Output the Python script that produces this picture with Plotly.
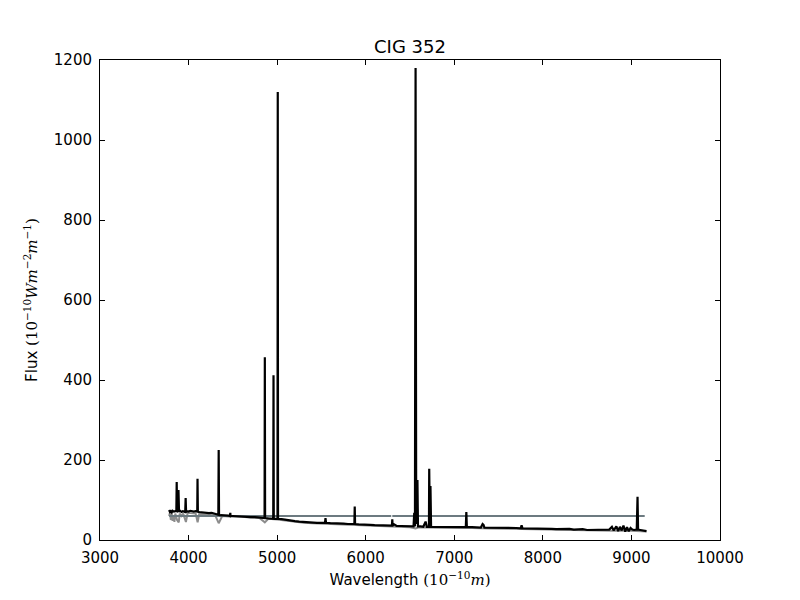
import plotly.graph_objects as go

# Observed spectrum (black)
obs_wave = [3780, 3790, 3800, 3810, 3820, 3835, 3850, 3862, 3866, 3870, 3880, 3886, 3892, 3905, 3920, 3935, 3950, 3962, 3967, 3972,
            3985, 4000, 4020, 4040, 4060, 4080, 4098, 4101, 4105, 4120, 4150, 4180, 4200, 4230, 4260, 4290, 4320, 4336, 4340, 4344,
            4360, 4390, 4420, 4450, 4468, 4471, 4474, 4500, 4550, 4600, 4650, 4700, 4750, 4800, 4840, 4858, 4861, 4864, 4900, 4940,
            4956, 4959, 4962, 4985, 5004, 5007, 5010, 5050, 5100, 5150, 5200, 5250, 5300, 5350, 5400, 5450, 5500, 5540, 5546, 5552,
            5600, 5650, 5700, 5750, 5800, 5850, 5872, 5876, 5880, 5920, 5970, 6000, 6050, 6100, 6150, 6200, 6250, 6296, 6300, 6304,
            6320, 6350, 6400, 6450, 6500, 6540, 6548, 6556, 6563, 6570, 6584, 6590, 6620, 6650, 6676, 6690, 6714, 6717, 6724, 6731,
            6738, 6780, 6850, 6900, 6950, 7000, 7050, 7100, 7130, 7136, 7142, 7200, 7250, 7300, 7320, 7330, 7340, 7400, 7450, 7500,
            7550, 7600, 7650, 7700, 7750, 7760, 7770, 7800, 7850, 7900, 7950, 8000, 8050, 8100, 8150, 8200, 8250, 8300, 8350, 8400,
            8450, 8500, 8550, 8600, 8650, 8700, 8750, 8780, 8800, 8830, 8850, 8870, 8890, 8910, 8930, 8950, 8970, 8990, 9010, 9030,
            9060, 9069, 9075, 9100, 9130, 9150, 9170]
obs_flux = [75, 70, 72, 69, 73, 71, 72, 72, 145, 72, 70, 125, 71, 73, 70, 72, 71, 70, 105, 70,
            72, 71, 73, 72, 71, 72, 71, 153, 71, 70, 69, 68, 68, 67, 68, 66, 64, 63, 225, 63,
            62, 62, 61, 61, 60, 68, 60, 60, 59, 59, 58, 57, 57, 56, 55, 55, 457, 55, 54, 53,
            53, 412, 53, 53, 53, 1120, 53, 52, 50, 48, 47, 46, 45, 45, 44, 43, 43, 43, 55, 43,
            42, 42, 41, 41, 40, 40, 40, 84, 40, 39, 39, 38, 38, 37, 37, 36, 36, 36, 52, 36,
            39, 35, 35, 34, 34, 34, 68, 34, 1180, 40, 150, 34, 34, 33, 46, 33, 33, 178, 40, 135,
            33, 33, 33, 33, 32, 33, 32, 32, 32, 70, 32, 32, 31, 31, 40, 38, 31, 31, 31, 30,
            31, 30, 30, 30, 29, 37, 29, 29, 29, 29, 28, 29, 28, 28, 27, 27, 27, 28, 26, 26,
            27, 25, 25, 26, 25, 25, 26, 33, 24, 34, 22, 33, 24, 36, 21, 32, 22, 30, 26, 25,
            26, 108, 26, 25, 24, 23, 22]

# Model spectrum (gray)
mod_wave = [3780, 3790, 3800, 3810, 3820, 3835, 3840, 3850, 3870, 3889, 3900, 3920, 3940, 3970, 3990, 4020, 4050, 4080, 4102, 4120,
            4150, 4200, 4250, 4300, 4340, 4380, 4450, 4500, 4600, 4700, 4800, 4861, 4900, 5000, 5100, 5200, 5300, 5400, 5500, 5600,
            5700, 5800, 5900, 6000, 6100, 6200, 6300, 6400, 6500, 6563, 6600, 6700, 6800, 7000, 7200, 7400, 7600, 7800, 8000, 8200,
            8400, 8600, 8800, 9000, 9170]
mod_flux = [60, 68, 50, 66, 48, 62, 45, 66, 50, 44, 66, 60, 66, 45, 68, 67, 66, 66, 44, 65,
            65, 64, 63, 62, 42, 60, 59, 59, 58, 56, 55, 44, 53, 51, 48, 45, 43, 42, 41, 40,
            39, 38, 37, 36, 35, 34, 34, 33, 32, 29, 32, 31, 31, 30, 30, 29, 28, 27, 27, 26,
            25, 24, 23, 23, 21]

# Flat level (slate gray)
flat_wave = [3780, 6288, None, 6300, 9150]
flat_flux = [60, 60, None, 60, 60]

x_ticks = [3000, 4000, 5000, 6000, 7000, 8000, 9000, 10000]
y_ticks = [0, 200, 400, 600, 800, 1000, 1200]

fig = go.Figure()
fig.add_trace(go.Scatter(x=mod_wave, y=mod_flux, mode="lines",
                         line=dict(color="#8c8c8c", width=2), showlegend=False))
fig.add_trace(go.Scatter(x=flat_wave, y=flat_flux, mode="lines", connectgaps=False,
                         line=dict(color="#6c7a80", width=2), showlegend=False))
fig.add_trace(go.Scatter(x=obs_wave, y=obs_flux, mode="lines",
                         line=dict(color="black", width=2.2), showlegend=False))

serif = "DejaVu Serif"
fig.update_layout(
    width=800, height=600,
    paper_bgcolor="white", plot_bgcolor="white",
    margin=dict(l=92, r=88, t=52, b=68, autoexpand=False),
    font=dict(family="DejaVu Sans", size=15, color="black"),
    title=dict(text="CIG 352", x=0.5025, xanchor="center", y=0.935, yanchor="middle",
               font=dict(size=18, family="DejaVu Sans", color="black")),
    xaxis=dict(range=[3000, 10000], tickvals=x_ticks, ticktext=[str(v) for v in x_ticks],
               ticks="inside", ticklen=5, tickcolor="black", showline=True, linecolor="black",
               linewidth=1, mirror="ticks", showgrid=False, zeroline=False, automargin=False,
               ticklabelstandoff=4,
               title=dict(text=f"Wavelength <span style='font-family:{serif}'>(10<sup>−10</sup><i>m</i>)</span>",
                          standoff=8, font=dict(size=15))),
    yaxis=dict(range=[0, 1200], tickvals=y_ticks, ticktext=[str(v) for v in y_ticks],
               ticks="inside", ticklen=5, tickcolor="black", showline=True, linecolor="black",
               linewidth=1, mirror="ticks", showgrid=False, zeroline=False, automargin=False,
               ticklabelstandoff=4,
               title=dict(text=f"Flux <span style='font-family:{serif}'>(10<sup>−10</sup><i>Wm</i><sup>−2</sup><i>m</i><sup>−1</sup>)</span>",
                          standoff=12, font=dict(size=15))),
)

fig.write_html("out.html")
